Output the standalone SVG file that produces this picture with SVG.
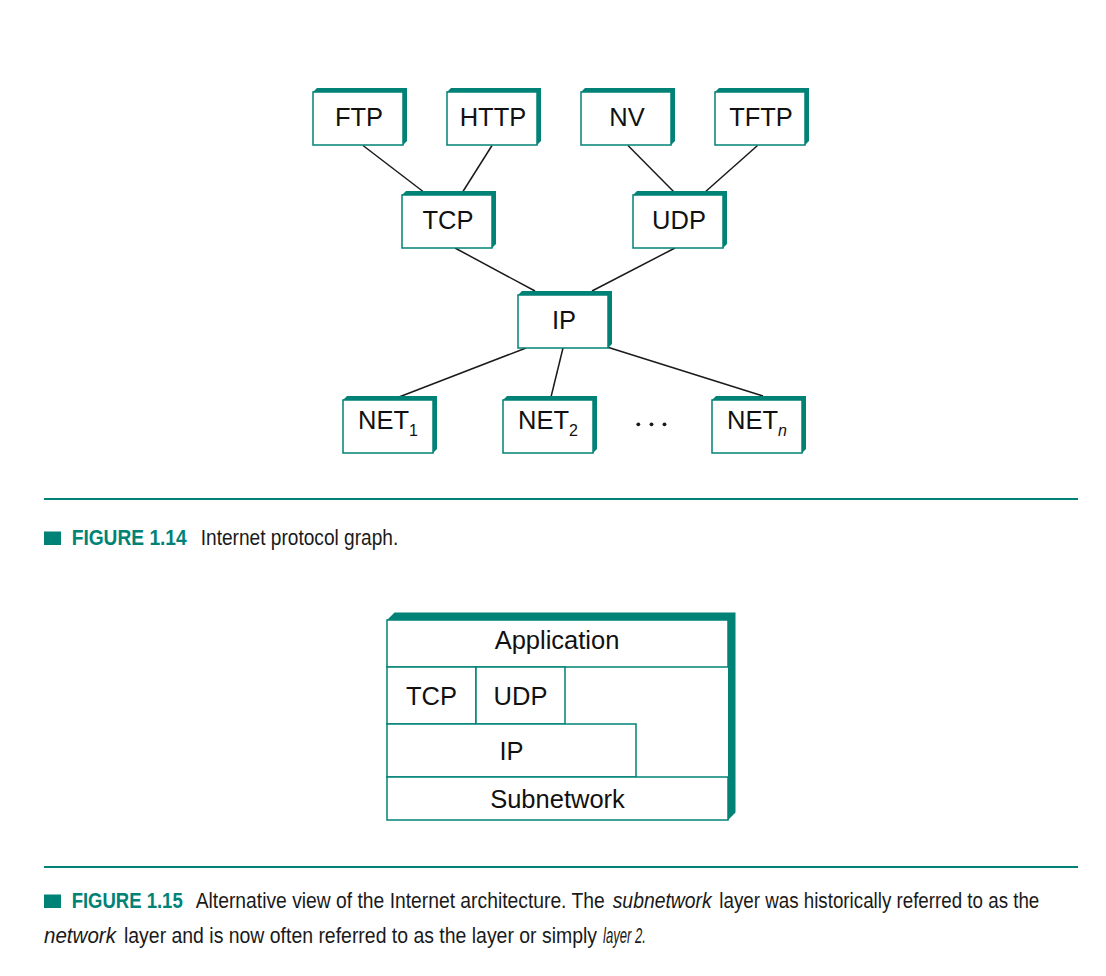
<svg xmlns="http://www.w3.org/2000/svg" width="1106" height="976" viewBox="0 0 1106 976">
<style>
.ext{fill:#008276;}
.face{fill:#ffffff;stroke:#008276;stroke-width:1.5;}
.lbl{font-family:"Liberation Sans",Arial,sans-serif;font-size:25.5px;fill:#111;text-anchor:middle;}
.sub{font-size:16px;}
.edge{stroke:#1a1a1a;stroke-width:1.5;fill:none;}
.cell{fill:#ffffff;stroke:#008276;stroke-width:1.5;}
.rule{stroke:#008276;stroke-width:2;}
.cap{font-family:"Liberation Sans Narrow","Liberation Sans",Arial,sans-serif;font-size:22px;fill:#1a1a1a;}
.capb{font-weight:bold;fill:#008276;}
.capi{font-style:italic;}
</style>
<defs>
<g id="box">
<polygon class="ext" points="0,0 4,-4 94,-4 94,49 90,53 90,0"/>
<rect class="face" x="0" y="0" width="90" height="53"/>
</g>
</defs>
<rect width="1106" height="976" fill="#ffffff"/>

<g id="connectors">
<line class="edge" x1="363" y1="145.5" x2="425" y2="193"/>
<line class="edge" x1="492" y1="145.5" x2="462" y2="193"/>
<line class="edge" x1="628" y1="145.5" x2="675" y2="193"/>
<line class="edge" x1="757.5" y1="145.5" x2="704" y2="193"/>
<line class="edge" x1="455" y1="248" x2="535" y2="291"/>
<line class="edge" x1="675" y1="248" x2="592" y2="291"/>
<line class="edge" x1="526" y1="348" x2="399" y2="397"/>
<line class="edge" x1="563" y1="348" x2="551" y2="397"/>
<line class="edge" x1="607" y1="347" x2="763" y2="396"/>
</g>

<g id="node-ftp"><use href="#box" x="313" y="92"/><text class="lbl" x="359" y="125.5">FTP</text></g>
<g id="node-http"><use href="#box" x="447" y="92"/><text class="lbl" x="493" y="125.5">HTTP</text></g>
<g id="node-nv"><use href="#box" x="581" y="92"/><text class="lbl" x="627" y="125.5">NV</text></g>
<g id="node-tftp"><use href="#box" x="715" y="92"/><text class="lbl" x="761" y="125.5">TFTP</text></g>
<g id="node-tcp"><use href="#box" x="402" y="195"/><text class="lbl" x="448" y="228.5">TCP</text></g>
<g id="node-udp"><use href="#box" x="633" y="195"/><text class="lbl" x="679" y="228.5">UDP</text></g>
<g id="node-ip"><use href="#box" x="518" y="295"/><text class="lbl" x="564" y="328.5">IP</text></g>
<g id="node-net1"><use href="#box" x="343" y="400"/><text class="lbl" x="388" y="428.5">NET<tspan class="sub" dy="7.3">1</tspan></text></g>
<g id="node-net2"><use href="#box" x="503" y="400"/><text class="lbl" x="548" y="428.5">NET<tspan class="sub" dy="7.3">2</tspan></text></g>
<g id="node-netn"><use href="#box" x="712" y="400"/><text class="lbl" x="757" y="428.5">NET<tspan class="sub" dy="7.3" font-style="italic">n</tspan></text></g>
<g id="ellipsis" fill="#1a1a1a">
<circle cx="638.3" cy="424.3" r="1.9"/>
<circle cx="651.5" cy="424.3" r="1.9"/>
<circle cx="664.5" cy="424.3" r="1.9"/>
</g>

<line class="rule" x1="44" y1="499" x2="1078" y2="499"/>
<g id="caption-1-14">
<rect x="44" y="531.5" width="17" height="13.5" fill="#008276"/>
<text class="cap capb" x="71.7" y="545" textLength="115" lengthAdjust="spacingAndGlyphs">FIGURE 1.14</text>
<text class="cap" x="200.7" y="545" textLength="197.6" lengthAdjust="spacingAndGlyphs">Internet protocol graph.</text>
</g>

<g id="fig-1-15">
<polygon class="ext" points="387,620 394.5,612.5 735.5,612.5 735.5,812.5 728,820 728,620"/>
<g id="layer-application"><rect class="cell" x="387" y="620" width="341" height="47"/><text class="lbl" x="557" y="648.5">Application</text></g>
<g id="layer-tcp"><rect class="cell" x="387" y="667" width="89" height="57"/><text class="lbl" x="431.5" y="705">TCP</text></g>
<g id="layer-udp"><rect class="cell" x="476" y="667" width="89" height="57"/><text class="lbl" x="520.5" y="705">UDP</text></g>
<g id="layer-ip"><rect class="cell" x="387" y="724" width="249" height="53"/><text class="lbl" x="511.5" y="760">IP</text></g>
<g id="layer-subnetwork"><rect class="cell" x="387" y="777" width="341" height="43"/><text class="lbl" x="557.5" y="807.5">Subnetwork</text></g>
</g>

<line class="rule" x1="44" y1="867" x2="1078" y2="867"/>
<g id="caption-1-15">
<rect x="44" y="894.5" width="17" height="13.5" fill="#008276"/>
<text class="cap capb" x="71.7" y="908.3" textLength="111" lengthAdjust="spacingAndGlyphs">FIGURE 1.15</text>
<text class="cap" x="195.7" y="908.3" textLength="409" lengthAdjust="spacingAndGlyphs">Alternative view of the Internet architecture. The</text>
<text class="cap capi" x="612.7" y="908.3" textLength="99" lengthAdjust="spacingAndGlyphs">subnetwork</text>
<text class="cap" x="719.3" y="908.3" textLength="320" lengthAdjust="spacingAndGlyphs">layer was historically referred to as the</text>
<text class="cap capi" x="44" y="943.3" textLength="72" lengthAdjust="spacingAndGlyphs">network</text>
<text class="cap" x="124" y="943.3" textLength="473" lengthAdjust="spacingAndGlyphs">layer and is now often referred to as the layer or simply</text>
<text class="cap capi" x="603" y="943.3" textLength="43" lengthAdjust="spacingAndGlyphs">layer 2.</text>
</g>
</svg>
